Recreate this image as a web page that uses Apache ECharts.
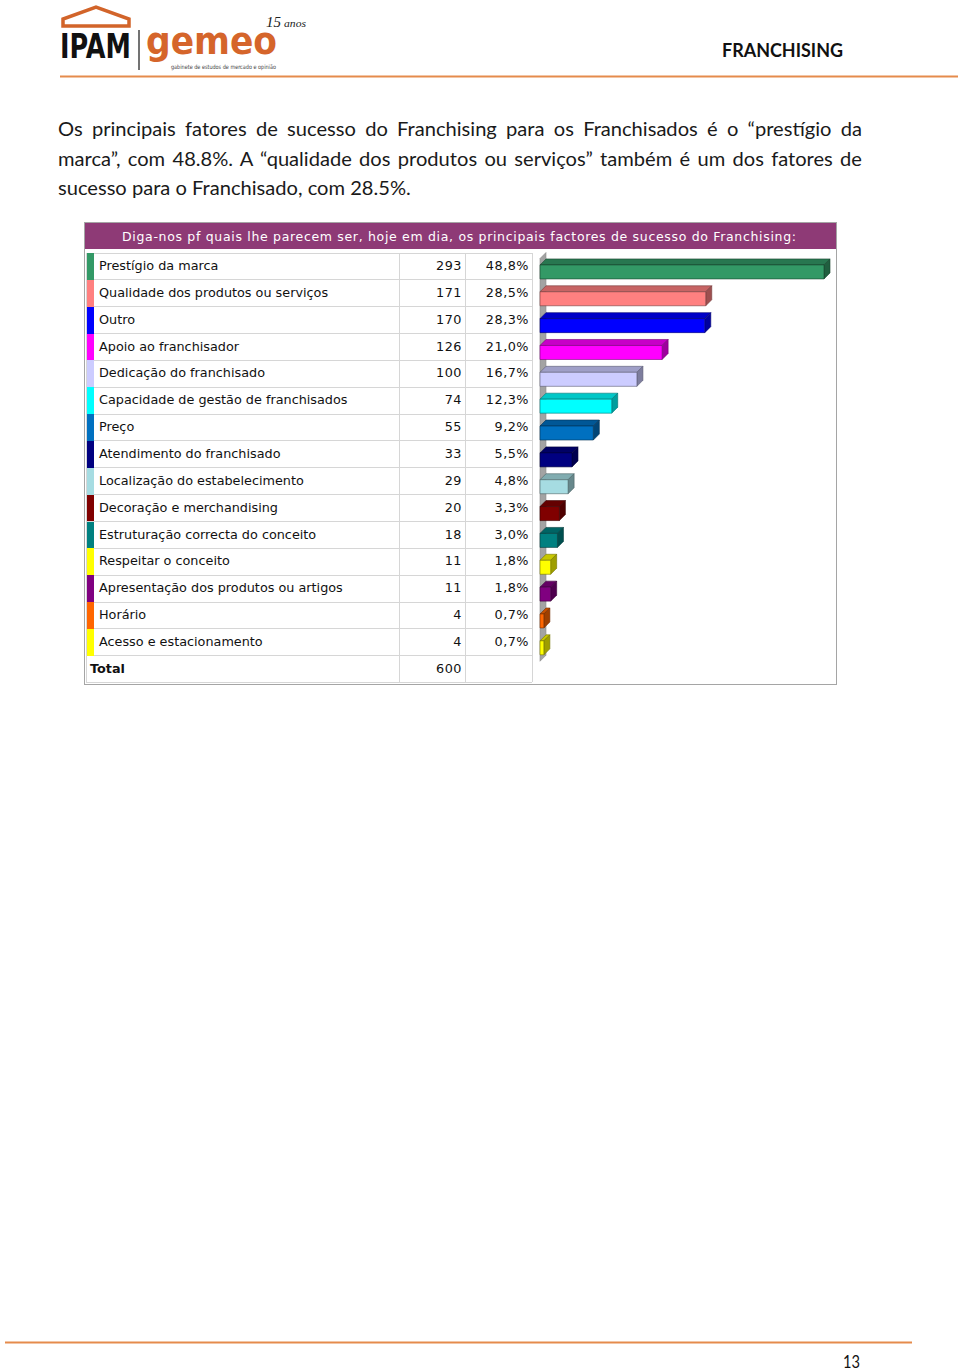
<!DOCTYPE html>
<html><head><meta charset="utf-8">
<script src="https://cdn.jsdelivr.net/npm/echarts/dist/echarts.min.js"></script>
<style>
html,body{margin:0;padding:0;background:#fff;}
body{width:960px;height:1371px;position:relative;overflow:hidden;font-family:'DejaVu Sans',sans-serif;}
.abs{position:absolute;}
.pl{position:absolute;left:58px;width:804px;white-space:nowrap;font-family:Lato,sans-serif;color:#1a1a1a;line-height:30px;}
.just{text-align:justify;text-align-last:justify;white-space:normal;}
.cell{position:absolute;font-size:12.8px;color:#111;white-space:nowrap;}
.num{text-align:right;letter-spacing:0.5px;}
.hl{position:absolute;height:1px;background:#D6D6D6;}
.vl{position:absolute;width:1px;background:#D6D6D6;}
</style></head>
<body>
<!-- header -->
<svg class="abs" style="left:0;top:0" width="960" height="80">
  <polygon points="63,26 63,19 96,7 129,19 129,26" fill="none" stroke="#D2642A" stroke-width="3.5" stroke-linejoin="miter"/>
  <text x="60" y="58" font-family="DejaVu Sans" font-weight="bold" font-size="33" fill="#111" textLength="71" lengthAdjust="spacingAndGlyphs">IPAM</text>
  <line x1="139" y1="30" x2="139" y2="70" stroke="#444" stroke-width="1.5"/>
  <text x="146" y="54" font-family="DejaVu Sans" font-weight="bold" font-size="37" fill="#D5652B" textLength="131" lengthAdjust="spacingAndGlyphs">gemeo</text>
  <text x="171" y="69" font-family="DejaVu Sans" font-size="6" fill="#444" textLength="105" lengthAdjust="spacingAndGlyphs">gabinete de estudos de mercado e opinião</text>
  <text x="266" y="27" font-family="Liberation Serif" font-style="italic" font-size="15" fill="#222">15</text>
  <text x="284" y="27" font-family="Liberation Serif" font-style="italic" font-size="10" fill="#222" textLength="22" lengthAdjust="spacingAndGlyphs">anos</text>
  <text x="722" y="57" font-family="Lato" font-weight="bold" font-size="19" fill="#111" textLength="121" lengthAdjust="spacingAndGlyphs">FRANCHISING</text>
  <line x1="60" y1="76.5" x2="958" y2="76.5" stroke="#E58B4C" stroke-width="2"/>
</svg>

<!-- paragraph -->
<div id="p1" class="pl just" style="top:112.5px">Os principais fatores de sucesso do Franchising para os Franchisados é o “prestígio da</div>
<div id="p2" class="pl just" style="top:142.5px">marca”, com 48.8%. A “qualidade dos produtos ou serviços” também é um dos fatores de</div>
<div id="p3" class="pl" style="top:172px">sucesso para o Franchisado, com 28.5%.</div>

<!-- chart box -->
<div class="abs" style="left:84px;top:222px;width:751px;height:461px;border:1px solid #A5A5A5;"></div>
<div class="abs" style="left:85px;top:223px;width:751px;height:26px;background:#8E3A76;"></div>
<svg class="abs" style="left:85px;top:223px" width="751" height="26">
  <text id="ttl" x="37" y="17.5" fill="#fff" font-family="DejaVu Sans" font-size="12.5" textLength="674" lengthAdjust="spacing">Diga-nos pf quais lhe parecem ser, hoje em dia, os principais factores de sucesso do Franchising:</text>
</svg>
<div id="tbl" class="abs" style="left:0;top:0;width:960px;height:700px;"></div>
<div id="bars" class="abs" style="left:533px;top:250px;width:302px;height:433px;"></div>

<!-- footer -->
<svg class="abs" style="left:0;top:1330px" width="960" height="41">
  <line x1="5" y1="12.5" x2="912" y2="12.5" stroke="#E58B4C" stroke-width="2"/>
  <text x="843" y="38" font-family="Lato" font-size="18" fill="#111" textLength="17" lengthAdjust="spacingAndGlyphs">13</text>
</svg>

<script>
// ---- data ----
const categories = [
  'Prestígio da marca',
  'Qualidade dos produtos ou serviços',
  'Outro',
  'Apoio ao franchisador',
  'Dedicação do franchisado',
  'Capacidade de gestão de franchisados',
  'Preço',
  'Atendimento do franchisado',
  'Localização do estabelecimento',
  'Decoração e merchandising',
  'Estruturação correcta do conceito',
  'Respeitar o conceito',
  'Apresentação dos produtos ou artigos',
  'Horário',
  'Acesso e estacionamento'
];
const counts = [293, 171, 170, 126, 100, 74, 55, 33, 29, 20, 18, 11, 11, 4, 4];
const percents = [48.8, 28.5, 28.3, 21.0, 16.7, 12.3, 9.2, 5.5, 4.8, 3.3, 3.0, 1.8, 1.8, 0.7, 0.7];
const barColors = ['#339966', '#FF8080', '#0000FF', '#FF00FF', '#CCCCFF', '#00FFFF', '#0070C0',
  '#000080', '#A6DCE2', '#800000', '#008080', '#FFFF00', '#800080', '#FF6600', '#FFFF00'];
const totalLabel = 'Total';
const totalCount = 600;

// ---- paragraph fit (last line width) ----
(function(){
  const p3 = document.getElementById('p3');
  const s = document.createElement('span');
  s.textContent = p3.textContent;
  s.style.cssText = 'font-family:Lato,sans-serif;font-size:20px;white-space:nowrap;position:absolute;visibility:hidden;';
  document.body.appendChild(s);
  const w = s.getBoundingClientRect().width;
  document.body.removeChild(s);
  const fs = 20 * 353 / w;
  ['p1','p2','p3'].forEach(id => document.getElementById(id).style.fontSize = fs + 'px');
})();

// ---- table ----
const rowH = 26.85, tblTop = 252.5, tblLeft = 86, c1 = 399, c2 = 465, c3 = 532;
const fmtPct = v => v.toFixed(1).replace('.', ',') + '%';
const tbl = document.getElementById('tbl');
let html = '';
const nRows = categories.length + 1;
for (let i = 0; i <= nRows; i++) {
  html += `<div class="hl" style="left:${tblLeft}px;top:${tblTop + i*rowH}px;width:${c3 - tblLeft}px"></div>`;
}
[tblLeft, c1, c2, c3].forEach(x => {
  html += `<div class="vl" style="left:${x}px;top:${tblTop}px;height:${nRows*rowH}px"></div>`;
});
categories.forEach((c, i) => {
  const t = tblTop + i*rowH + 0.5;
  html += `<div class="abs" style="left:87px;top:${t}px;width:7px;height:${rowH}px;background:${barColors[i]}"></div>`;
  html += `<div class="cell" style="left:99px;top:${t}px;line-height:${rowH}px">${c}</div>`;
  html += `<div class="cell num" style="left:${c1}px;width:${462-c1}px;top:${t}px;line-height:${rowH}px">${counts[i]}</div>`;
  html += `<div class="cell num" style="left:${c2}px;width:${529-c2}px;top:${t}px;line-height:${rowH}px">${fmtPct(percents[i])}</div>`;
});
{
  const t = tblTop + categories.length*rowH + 0.5;
  html += `<div class="cell" style="left:90px;top:${t}px;line-height:${rowH}px;font-weight:bold">${totalLabel}</div>`;
  html += `<div class="cell num" style="left:${c1}px;width:${462-c1}px;top:${t}px;line-height:${rowH}px">${totalCount}</div>`;
}
tbl.innerHTML = html;

// ---- bars (pseudo 3D) ----
function shade(hex, f) {
  const n = parseInt(hex.slice(1), 16);
  const r = Math.round(((n >> 16) & 255) * f), g = Math.round(((n >> 8) & 255) * f), b = Math.round((n & 255) * f);
  return `rgb(${r},${g},${b})`;
}
const DEPTH = 6, FACE_H = 14;
const chart = echarts.init(document.getElementById('bars'), null, {renderer: 'canvas'});
chart.setOption({
  animation: false,
  grid: {left: 7, top: 8.5, width: 290.8, height: 402.75},
  xAxis: {type: 'value', min: 0, max: 300, show: false},
  yAxis: {type: 'category', data: categories, inverse: true, show: false},
  series: [
    {
      type: 'custom', silent: true,
      data: [[0, 0]],
      encode: {x: 0, y: 1},
      renderItem: function (params, api) {
        const band = api.size([0, 1])[1];
        const p0 = api.coord([0, 0]);
        const p1 = api.coord([0, categories.length - 1]);
        const x = p0[0], yT = p0[1] - band / 2, yB = p1[1] + band / 2;
        return {
          type: 'polygon',
          shape: {points: [[x, yT], [x + DEPTH, yT - DEPTH], [x + DEPTH, yB - DEPTH], [x, yB]]},
          style: {fill: '#A3A3A3', stroke: '#8A8A8A', lineWidth: 0.6}
        };
      }
    },
    {
      type: 'custom',
      data: counts.map((v, i) => [v, i]),
      encode: {x: 0, y: 1},
      renderItem: function (params, api) {
        const v = api.value(0), ci = api.value(1);
        const s = api.coord([0, ci]), e = api.coord([v, ci]);
        const x0 = s[0], x1 = e[0], yc = s[1];
        const yT = yc - FACE_H / 2, yB = yc + FACE_H / 2;
        const col = barColors[params.dataIndex];
        const edge = shade(col, 0.45);
        return {
          type: 'group',
          children: [
            {type: 'polygon', shape: {points: [[x0, yT], [x0 + DEPTH, yT - DEPTH], [x1 + DEPTH, yT - DEPTH], [x1, yT]]},
             style: {fill: shade(col, 0.78), stroke: edge, lineWidth: 0.6}},
            {type: 'polygon', shape: {points: [[x1, yT], [x1 + DEPTH, yT - DEPTH], [x1 + DEPTH, yB - DEPTH], [x1, yB]]},
             style: {fill: shade(col, 0.62), stroke: edge, lineWidth: 0.6}},
            {type: 'rect', shape: {x: x0, y: yT, width: x1 - x0, height: FACE_H},
             style: {fill: col, stroke: edge, lineWidth: 0.6}}
          ]
        };
      }
    }
  ]
});
</script>
</body></html>
